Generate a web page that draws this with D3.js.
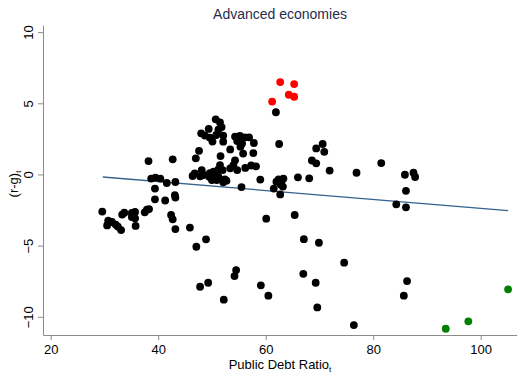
<!DOCTYPE html>
<html>
<head>
<meta charset="utf-8">
<script src="https://cdn.jsdelivr.net/npm/d3@7"></script>
<style>
  html, body { margin: 0; padding: 0; background: #fff; }
  svg { display: block; font-family: "Liberation Sans", Arial, sans-serif; }
</style>
</head>
<body>
<svg id="chart" width="522" height="380"></svg>
<script>
// ---- data ----
const blackDebt = [29.6,30.7,30.5,31.4,32.1,32.5,33.1,33.3,33.7,35.1,35.7,35.1,35.7,35.8,37.5,37.9,38.3,
  38.2,38.7,39.5,40.4,41.6,43.2,39.4,39.4,41.3,43.1,43.2,42.4,42.7,43.2,45.9,48.9,47.1,47.8,49.3,52.2,42.7,
  50.7,51.5,51.8,51.2,49.4,48.0,48.7,49.6,50.1,52.1,52.1,50.8,54.3,55.2,56.1,56.9,54.7,55.6,55.3,57.8,53.4,
  55.8,57.7,47.6,47.0,51.6,54.3,54.0,51.5,51.2,50.3,52.0,53.4,54.7,56.2,57.3,58.2,48.1,46.8,46.4,47.8,48.4,
  49.6,49.5,50.0,50.6,51.2,50.9,52.4,52.7,52.1,55.5,59.0,62.0,62.4,63.0,63.3,62.8,63.2,61.5,62.7,66.0,68.1,
  62.5,61.9,
  69.4,70.6,70.9,68.6,69.4,71.9,76.9,81.5,85.9,87.5,87.8,86.1,84.3,86.1,
  60.1,65.4,67.1,69.9,74.6,67.0,69.3,69.6,76.4,86.3,85.7,54.5,54.2,59.1,60.5];
const blackRG = [-2.61,-3.25,-3.58,-3.34,-3.52,-3.66,-3.91,-2.82,-2.69,-2.71,-2.64,-2.99,-3.08,-3.62,-2.66,-2.48,-2.43,
  0.94,-0.29,-0.22,-0.29,-0.60,-0.53,-0.99,-1.75,-1.83,-1.45,-1.62,-2.85,-3.15,-3.84,-3.73,-4.56,-5.08,-7.89,-7.61,-8.80,1.06,
  3.87,3.65,3.33,3.15,3.20,2.89,2.73,2.59,2.31,2.73,2.30,2.77,2.66,2.70,2.61,2.61,2.35,2.18,1.95,2.21,1.76,
  1.47,1.50,1.66,1.13,1.29,0.99,0.66,0.66,0.36,0.19,0.31,0.43,0.31,0.46,0.63,0.57,0.31,0.08,-0.11,-0.13,-0.04,
  0.10,-0.16,-0.39,-0.20,-0.16,-0.39,-0.34,-0.44,-0.55,-0.89,-0.36,-0.51,-0.34,-0.43,-0.29,-0.71,-0.85,-0.99,-1.40,-0.20,-0.27,
  2.14,4.37,
  1.83,2.14,1.59,0.98,0.78,0.27,0.12,0.80,-0.02,0.12,-0.18,-1.15,-2.10,-2.31,
  -3.11,-2.85,-4.55,-4.80,-6.20,-6.98,-7.61,-9.34,-10.58,-7.49,-8.52,-6.72,-7.14,-7.79,-8.52];
const redDebt = [62.7,65.3,64.3,65.3,61.2];
const redRG   = [6.49,6.35,5.60,5.46,5.12];
const greenDebt = [93.5,97.7,105.1];
const greenRG   = [-10.84,-10.32,-8.07];
const fitDebt = [29.7,105.1];
const fitRG   = [-0.18,-2.54];
const xTicks = [20,40,60,80,100];
const yTicks = [-10,-5,0,5,10];
const titleText = "Advanced economies";
const xLabel = "Public Debt Ratio";
const yLabel = "(r-g)";

// ---- layout ----
const svg = d3.select("#chart");
const x = d3.scaleLinear().domain([18.57,106.7]).range([43,516.7]);
const y = d3.scaleLinear().domain([-11.28,10.5]).range([335,25]);
const axisColor = "#8c8c8c";

svg.append("text").attr("x",280).attr("y",19).attr("text-anchor","middle")
  .attr("font-size",14).attr("fill","#1f2d50").text(titleText);

const gx = svg.append("g").attr("transform","translate(0,335)")
  .call(d3.axisBottom(x).tickValues(xTicks).tickSize(5).tickSizeOuter(0).tickPadding(5));
gx.selectAll("path,line").attr("stroke",axisColor);
gx.selectAll("text").attr("font-size",13).attr("fill","#000").attr("font-family","Liberation Sans, Arial, sans-serif");

const gy = svg.append("g").attr("transform","translate(43,0)")
  .call(d3.axisLeft(y).tickValues(yTicks).tickSize(5).tickSizeOuter(0).tickFormat(d3.format("d")));
gy.selectAll("path,line").attr("stroke",axisColor);
gy.selectAll("text").remove();
gy.selectAll(".tick").append("text")
  .attr("transform","translate(-10,0) rotate(-90)")
  .attr("text-anchor","middle").attr("dy","0")
  .attr("font-size",13).attr("fill","#000").attr("font-family","Liberation Sans, Arial, sans-serif")
  .text(d => d3.format("d")(d));

const xl = svg.append("text").attr("x",280).attr("y",369).attr("text-anchor","middle")
  .attr("font-size",13).attr("fill","#000");
xl.append("tspan").text(xLabel);
xl.append("tspan").attr("font-size",8).attr("dy",3).text("t");

const yl = svg.append("text").attr("transform","translate(18,184) rotate(-90)")
  .attr("text-anchor","middle").attr("font-size",13).attr("fill","#000");
yl.append("tspan").text(yLabel);
yl.append("tspan").attr("font-size",8).attr("dy",3).text("t");

// regression line
svg.append("line")
  .attr("x1",x(fitDebt[0])).attr("y1",y(fitRG[0]))
  .attr("x2",x(fitDebt[1])).attr("y2",y(fitRG[1]))
  .attr("stroke","#34618e").attr("stroke-width",1.3);

function dots(xs, ys, color){
  svg.append("g").selectAll("circle").data(xs.map((d,i)=>[d,ys[i]])).join("circle")
    .attr("cx",d=>x(d[0])).attr("cy",d=>y(d[1])).attr("r",3.9).attr("fill",color);
}
dots(blackDebt, blackRG, "#000");
dots(redDebt, redRG, "#ff0000");
dots(greenDebt, greenRG, "#008000");
</script>
</body>
</html>
